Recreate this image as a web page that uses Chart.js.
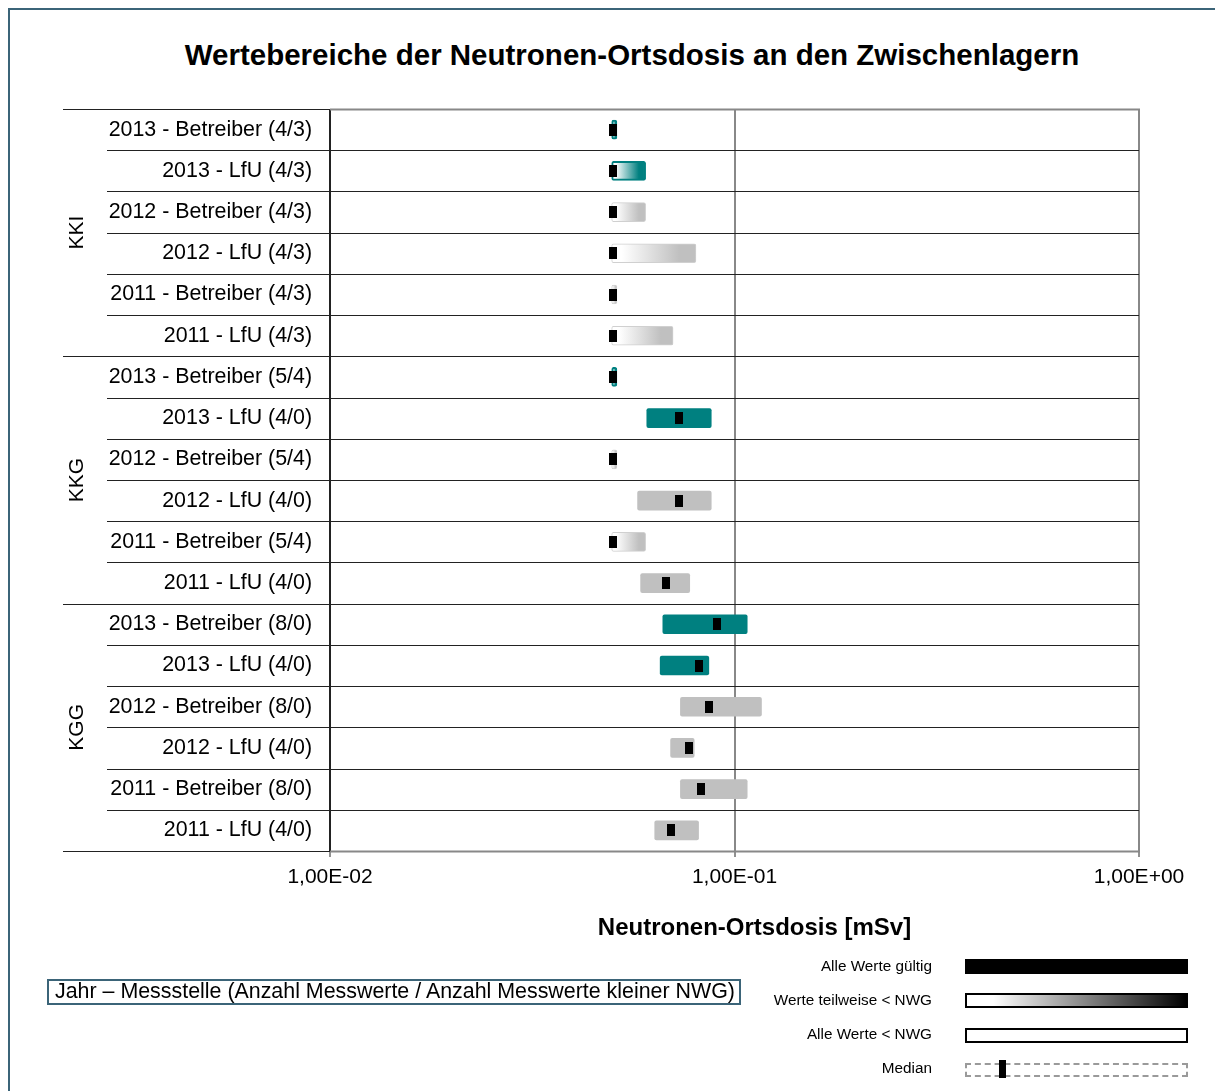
<!DOCTYPE html>
<html>
<head>
<meta charset="utf-8">
<script src="https://cdn.jsdelivr.net/npm/chart.js@4/dist/chart.umd.min.js"></script>
<style>
  body { margin: 0; overflow: hidden; background: #fff; font-family: "Liberation Sans", Arial, sans-serif; }
  .abs { position: absolute; }
  #frame { left: 8px; top: 8px; width: 1260px; height: 1120px; border: 2px solid #3b6478; }
  #title { left: 0; top: 38px; width: 1264px; text-align: center; font-weight: bold; font-size: 29.5px; line-height: 34px; }
  #chart { left: 0; top: 0; }
  #axisTitle { left: 504px; top: 913px; width: 501px; text-align: center; font-weight: bold; font-size: 24px; line-height: 28px; }
  #keyBox { left: 47px; top: 979px; width: 694px; height: 26px; box-sizing: border-box; border: 2px solid #3b6478; font-size: 21.4px; line-height: 21px; padding-left: 6px; white-space: nowrap; }
  .lgLabel { left: 700px; width: 232px; text-align: right; font-size: 15.3px; line-height: 18px; }
  .sw { left: 965px; width: 223px; height: 15px; box-sizing: border-box; }
</style>
</head>
<body>
<div id="frame" class="abs"></div>
<div id="title" class="abs">Wertebereiche der Neutronen-Ortsdosis an den Zwischenlagern</div>
<canvas id="chart" class="abs" width="1215" height="1091"></canvas>
<div id="axisTitle" class="abs">Neutronen-Ortsdosis [mSv]</div>
<div id="keyBox" class="abs">Jahr – Messstelle (Anzahl Messwerte / Anzahl Messwerte kleiner NWG)</div>

<div class="abs lgLabel" style="top:957px">Alle Werte gültig</div>
<div class="abs sw" style="top:959px;background:#000"></div>
<div class="abs lgLabel" style="top:991px">Werte teilweise &lt; NWG</div>
<div class="abs sw" style="top:993px;border:2px solid #000;background:linear-gradient(to right,#fff 0%,#fff 12%,#000 100%)"></div>
<div class="abs lgLabel" style="top:1025px">Alle Werte &lt; NWG</div>
<div class="abs sw" style="top:1028px;border:2px solid #000;background:#fff"></div>
<div class="abs lgLabel" style="top:1059px">Median</div>
<div class="abs sw" style="top:1063px;height:14px;border:2px dashed #9a9a9a"></div>
<div class="abs" style="left:999px;top:1060px;width:7px;height:18px;background:#000"></div>

<script>
// Zeilen (oben nach unten)
const categories = [
  "2013 - Betreiber (4/3)", "2013 - LfU (4/3)", "2012 - Betreiber (4/3)",
  "2012 - LfU (4/3)", "2011 - Betreiber (4/3)", "2011 - LfU (4/3)",
  "2013 - Betreiber (5/4)", "2013 - LfU (4/0)", "2012 - Betreiber (5/4)",
  "2012 - LfU (4/0)", "2011 - Betreiber (5/4)", "2011 - LfU (4/0)",
  "2013 - Betreiber (8/0)", "2013 - LfU (4/0)", "2012 - Betreiber (8/0)",
  "2012 - LfU (4/0)", "2011 - Betreiber (8/0)", "2011 - LfU (4/0)"
];
const groups = ["KKI", "KKG", "KGG"];
const groupSize = 6;

// Werte in mSv
const minValues = [0.0497, 0.0497, 0.0497, 0.0497, 0.0497, 0.0497,
                   0.0497, 0.0607, 0.0497, 0.0576, 0.0497, 0.0586,
                   0.0665, 0.0655, 0.0735, 0.0695, 0.0735, 0.0635];
const maxValues = [0.0512, 0.0603, 0.0603, 0.0803, 0.0512, 0.0705,
                   0.0512, 0.0876, 0.0512, 0.0876, 0.0603, 0.0775,
                   0.1075, 0.0864, 0.1166, 0.0795, 0.1075, 0.0815];
const medianValues = [0.0500, 0.0500, 0.0500, 0.0500, 0.0500, 0.0500,
                      0.0500, 0.0731, 0.0500, 0.0731, 0.0500, 0.0676,
                      0.0903, 0.0815, 0.0864, 0.0770, 0.0826, 0.0695];
const belowNwg = [3, 3, 3, 3, 3, 3, 4, 0, 4, 0, 4, 0, 0, 0, 0, 0, 0, 0];
const xTicks = [0.01, 0.1, 1];

const TEAL = "#008080", GRAY = "#c0c0c0";
const rowColor = i => categories[i].startsWith("2013") ? TEAL : GRAY;

function barFill(ctx) {
  const i = ctx.dataIndex;
  const col = rowColor(i);
  if (i === undefined || !belowNwg[i]) return col;
  const xs = ctx.chart.scales.x;
  if (!xs) return col;
  const x0 = xs.getPixelForValue(minValues[i]);
  const x1 = xs.getPixelForValue(maxValues[i]);
  if (!isFinite(x0) || !isFinite(x1) || x1 <= x0) return col;
  const g = ctx.chart.ctx.createLinearGradient(x0, 0, x1, 0);
  g.addColorStop(0, "#ffffff");
  g.addColorStop(0.12, "#ffffff");
  g.addColorStop(0.8, col);
  g.addColorStop(1, col);
  return g;
}

const medianMark = document.createElement("canvas");
medianMark.width = 8; medianMark.height = 12;
const mc = medianMark.getContext("2d");
mc.fillStyle = "#000";
mc.fillRect(0, 0, 8, 12);

const rowLines = {
  id: "rowLines",
  beforeDatasetsDraw(chart) {
    const { ctx, chartArea, scales: { y } } = chart;
    ctx.save();
    for (let i = 0; i <= categories.length; i++) {
      const py = Math.round(y.getPixelForValue(i - 0.5)) + 0.5;
      const edge = i === 0 || i === categories.length;
      const startX = i % groupSize === 0 ? 63 : 107;
      ctx.strokeStyle = "#222";
      ctx.lineWidth = 1;
      ctx.beginPath();
      ctx.moveTo(startX, py);
      ctx.lineTo(edge ? chartArea.left : chartArea.right, py);
      ctx.stroke();
      if (edge) {
        ctx.strokeStyle = "#888";
        ctx.lineWidth = 2;
        ctx.beginPath();
        ctx.moveTo(chartArea.left, py);
        ctx.lineTo(chartArea.right + 1, py);
        ctx.stroke();
      }
    }
    ctx.fillStyle = "#000";
    ctx.font = "21px 'Liberation Sans', Arial, sans-serif";
    ctx.textAlign = "center";
    ctx.textBaseline = "middle";
    groups.forEach((g, k) => {
      const cy = y.getPixelForValue(k * groupSize + (groupSize - 1) / 2);
      ctx.save();
      ctx.translate(77, cy);
      ctx.rotate(-Math.PI / 2);
      ctx.fillText(g, 0, 0);
      ctx.restore();
    });
    ctx.restore();
  }
};

new Chart(document.getElementById("chart"), {
  type: "bar",
  data: {
    labels: categories,
    datasets: [
      {
        type: "line",
        indexAxis: "y",
        data: medianValues,
        showLine: false,
        pointStyle: medianMark,
        pointRadius: 4,
        order: 0
      },
      {
        data: categories.map((_, i) => [minValues[i], maxValues[i]]),
        backgroundColor: barFill,
        borderColor: categories.map((_, i) => belowNwg[i] ? (rowColor(i) === TEAL ? TEAL : "#d0d0d0") : rowColor(i)),
        borderWidth: categories.map((_, i) => belowNwg[i] ? (rowColor(i) === TEAL ? 2 : 1) : 0),
        borderSkipped: false,
        borderRadius: 2,
        barThickness: 19,
        grouped: false,
        order: 1
      }
    ]
  },
  options: {
    indexAxis: "y",
    responsive: false,
    animation: false,
    devicePixelRatio: 1,
    layout: { padding: { left: 0, top: 109, right: 76, bottom: 180 } },
    plugins: { legend: { display: false }, tooltip: { enabled: false }, title: { display: false } },
    scales: {
      x: {
        type: "logarithmic",
        min: 0.01,
        max: 1,
        afterBuildTicks: s => { s.ticks = xTicks.map(v => ({ value: v })); },
        afterFit: s => { s.height = 60; },
        ticks: {
          font: { family: "'Liberation Sans', Arial, sans-serif", size: 21 },
          color: "#000",
          padding: 8,
          maxRotation: 0,
          callback: v => v.toExponential(2).replace(".", ",").replace(/e([+-])(\d)$/, "E$10$2").replace("e", "E")
        },
        grid: {
          color: c => c.tick && c.tick.value === 0.01 ? "#222" : "#888",
          lineWidth: 2,
          tickColor: "#222",
          tickLength: 6,
          tickWidth: 1
        },
        border: { display: false }
      },
      y: {
        afterFit: s => { s.width = 330; },
        ticks: {
          font: { family: "'Liberation Sans', Arial, sans-serif", size: 21.4 },
          color: "#000",
          padding: 18,
          autoSkip: false
        },
        grid: { display: false, drawTicks: false },
        border: { display: true, color: "#222", width: 1 }
      }
    }
  },
  plugins: [rowLines]
});
</script>
</body>
</html>
